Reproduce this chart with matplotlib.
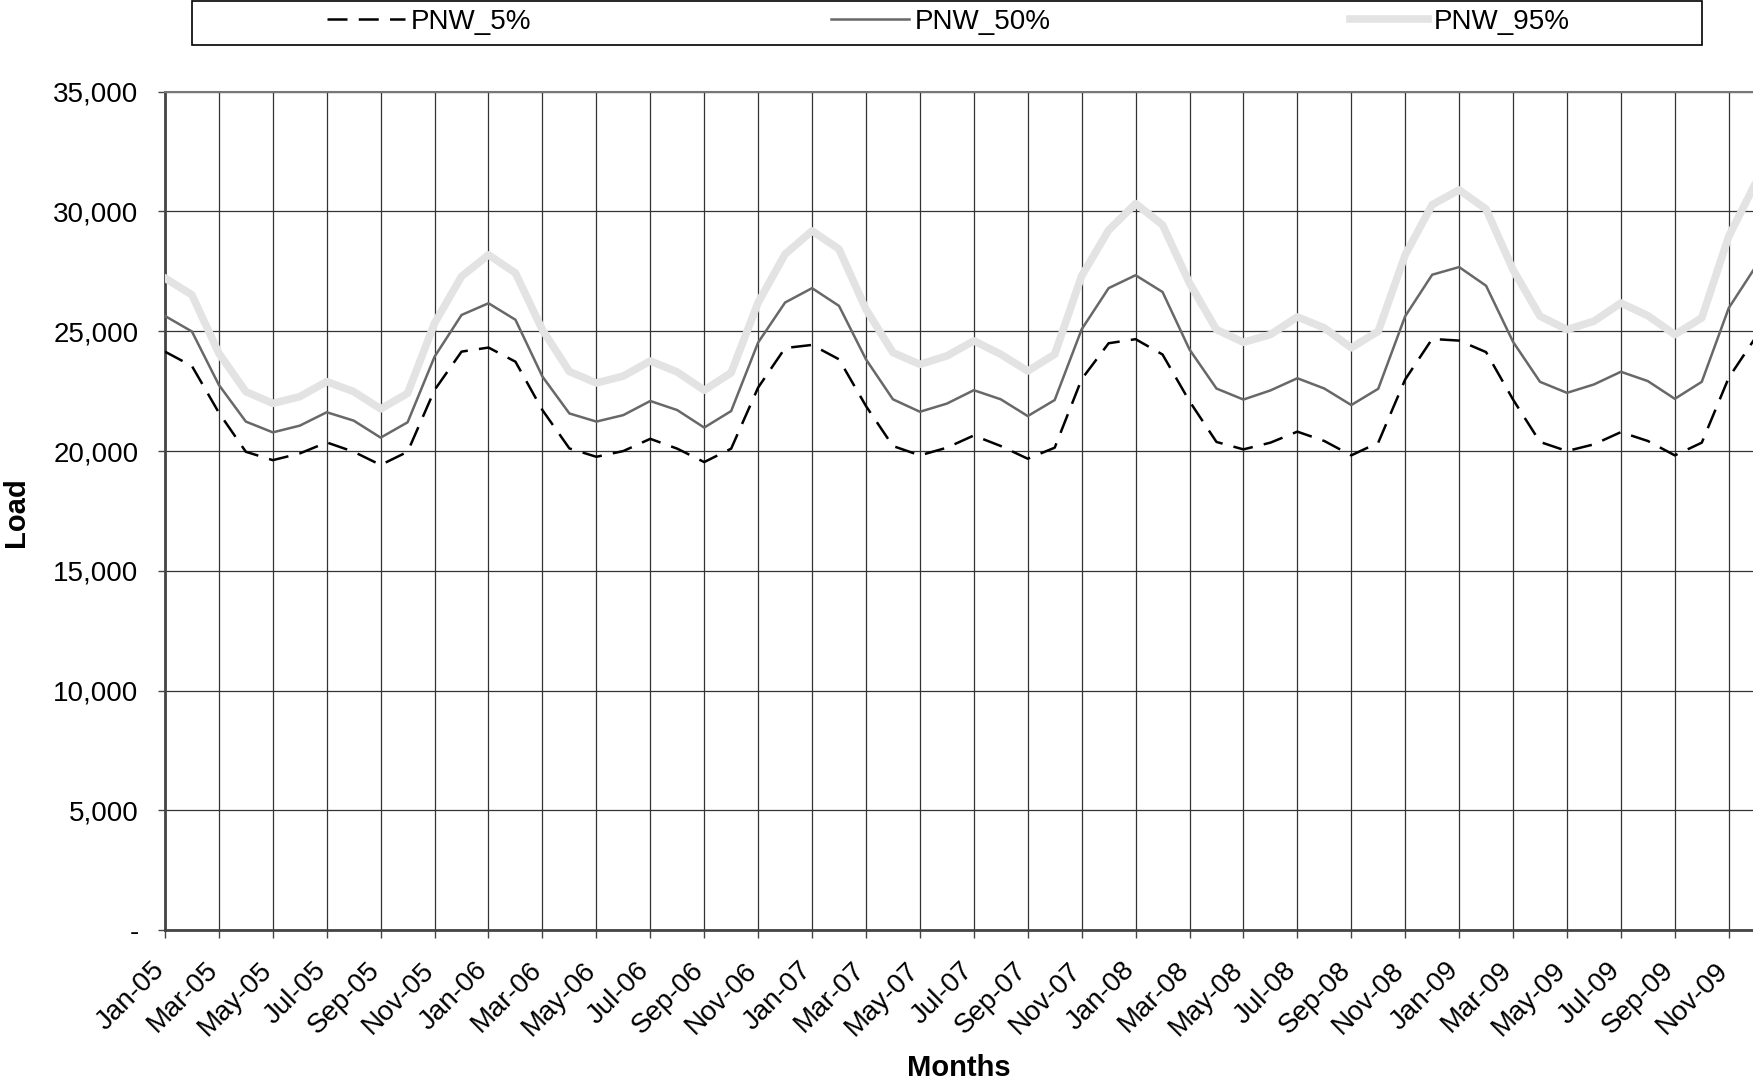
import numpy as np
import pandas as pd
import matplotlib
matplotlib.use('Agg')
import matplotlib.pyplot as plt
from matplotlib.ticker import FuncFormatter, MultipleLocator
from matplotlib.patches import Rectangle
from matplotlib.transforms import ScaledTranslation, blended_transform_factory

plt.rcParams['font.family'] = ['Liberation Sans', 'DejaVu Sans']

# monthly load, Jan-05 .. Dec-09
months = list(pd.date_range('2005-01-01', periods=60, freq='MS').strftime('%b-%y'))

p5 = [24150, 23550, 21600, 19970, 19620, 19900, 20360, 19970, 19420, 19970, 22550, 24150,
      24320, 23730, 21710, 20110, 19760, 20000, 20510, 20100, 19540, 20100, 22650, 24300,
      24430, 23830, 21880, 20210, 19820, 20140, 20650, 20210, 19680, 20140, 23000, 24500,
      24670, 24030, 22080, 20380, 20070, 20350, 20810, 20420, 19820, 20350, 22990, 24680,
      24610, 24130, 22150, 20380, 20000, 20280, 20790, 20420, 19820, 20350, 23060, 24750]

p50 = [25640, 24990, 22760, 21230, 20780, 21060, 21620, 21270, 20560, 21200, 23940, 25680,
       26170, 25480, 23110, 21570, 21230, 21500, 22090, 21710, 20980, 21670, 24530, 26200,
       26800, 26060, 23830, 22160, 21640, 21980, 22540, 22160, 21460, 22130, 25080, 26800,
       27340, 26640, 24240, 22610, 22150, 22530, 23040, 22610, 21920, 22600, 25630, 27360,
       27680, 26900, 24560, 22890, 22430, 22780, 23310, 22920, 22180, 22890, 25970, 27700]

p95 = [27220, 26520, 24080, 22480, 21990, 22270, 22900, 22480, 21760, 22410, 25340, 27290,
       28190, 27430, 25060, 23320, 22840, 23130, 23760, 23300, 22540, 23270, 26200, 28220,
       29190, 28430, 25920, 24110, 23620, 23970, 24600, 24040, 23340, 24040, 27310, 29220,
       30330, 29440, 27010, 25070, 24540, 24860, 25600, 25140, 24310, 25000, 28190, 30280,
       30900, 30100, 27570, 25630, 25070, 25420, 26180, 25650, 24860, 25560, 28960, 31200]

x = np.arange(len(months))

fig = plt.figure(figsize=(17.53, 10.84), dpi=100)
ax = fig.add_axes([0.0941, 0.1419, 0.9059, 0.7735])

l95, = ax.plot(x, p95, color='#e3e3e3', lw=5.5, zorder=3)
l50, = ax.plot(x, p50, color='#686868', lw=1.8, zorder=4)
l5, = ax.plot(x, p5, color='black', lw=1.8, dashes=(8, 4.5), zorder=5)

ax.set_xlim(0, 58.9)
ax.set_ylim(0, 35000)
ax.set_xticks(x[::2])
ax.set_xticklabels([])
# rotated month labels, placed down-left of each tick like excel does
trans = blended_transform_factory(ax.transData, ax.transAxes) + \
    ScaledTranslation(-0.14, -0.27, fig.dpi_scale_trans)
for xi in x[::2]:
    ax.text(xi, 0, months[xi], transform=trans, rotation=45, ha='right', va='top',
            rotation_mode='anchor', fontsize=20, clip_on=False)

ax.yaxis.set_major_locator(MultipleLocator(5000))
ax.yaxis.set_major_formatter(FuncFormatter(lambda v, p: '-' if v == 0 else f'{int(v):,}'))
ax.tick_params(axis='y', labelsize=20, length=5, width=1, color='#444444', pad=14)
ax.tick_params(axis='x', length=6, width=1, color='#444444', pad=8)

ax.grid(True, color='#333333', lw=0.9)
ax.set_axisbelow(True)
for s in ['left', 'bottom']:
    ax.spines[s].set_color('#444444')
    ax.spines[s].set_linewidth(2)
ax.spines['top'].set_color('#777777')
ax.spines['top'].set_linewidth(1.5)
ax.spines['right'].set_visible(False)

fig.text(0.009, 0.528, 'Load', rotation=90, ha='center', va='center',
         fontsize=21, fontweight='bold')
fig.text(0.547, 0.015, 'Months', ha='center', va='center', fontsize=21, fontweight='bold')

# legend box along the top
fig.patches.append(Rectangle((192 / 1753, 1 - 45 / 1084), 1510 / 1753, 44 / 1084,
                             transform=fig.transFigure, fill=False,
                             edgecolor='black', lw=1.2))
leg = fig.legend([l5, l50, l95], ['PNW_5%', 'PNW_50%', 'PNW_95%'],
                 loc='center', bbox_to_anchor=(0.541, 1 - 22 / 1084), ncol=3,
                 frameon=False, fontsize=20, handlelength=2.8, handletextpad=0.2,
                 columnspacing=10.8)

fig.savefig('out.png', dpi=100)
